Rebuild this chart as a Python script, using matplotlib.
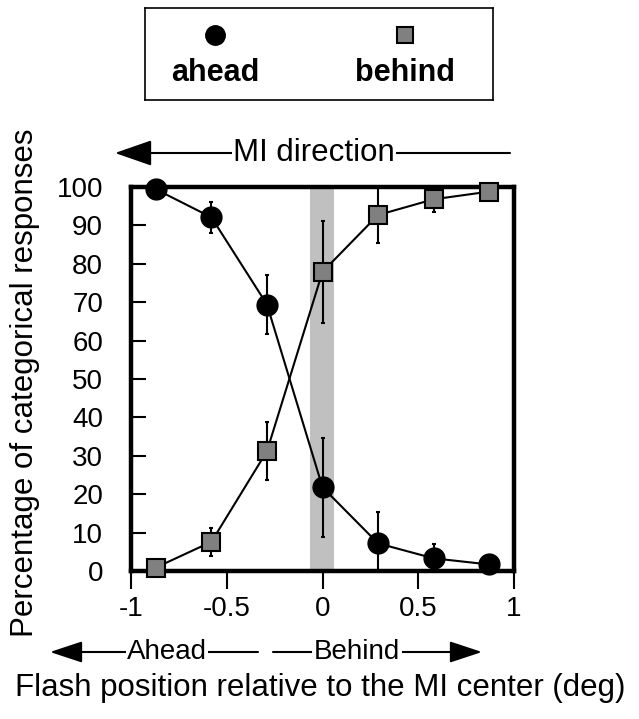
import matplotlib
matplotlib.use("Agg")
import matplotlib.pyplot as plt

# flash positions (deg) and % categorical responses
flash_pos = [-0.87, -0.58, -0.29, 0.0, 0.29, 0.58, 0.87]
ahead_pct = [99.4, 92.1, 69.4, 21.8, 7.2, 3.3, 1.7]
ahead_err = [1.0, 4.0, 7.7, 12.9, 8.1, 3.7, 1.0]
behind_pct = [0.9, 7.6, 31.2, 77.9, 92.7, 96.8, 98.8]
behind_err = [1.0, 3.7, 7.6, 13.2, 7.4, 3.2, 1.0]
center_band = (-0.065, 0.06)

x_ticks = [-1, -0.5, 0, 0.5, 1]
x_ticklabels = ["-1", "-0.5", "0", "0.5", "1"]
y_ticks = list(range(0, 101, 10))

plt.rcParams["font.family"] = ["Liberation Sans", "DejaVu Sans"]

W, H = 639, 719
fig = plt.figure(figsize=(W / 100, H / 100), dpi=100)


def fx(px):
    return px / W


def fy(py):
    return 1 - py / H


ax = fig.add_axes([fx(131), fy(571), fx(514) - fx(131), fy(187) - fy(571)])
ax.axvspan(*center_band, color="#c0c0c0", lw=0, zorder=0)

ax.errorbar(flash_pos, ahead_pct, yerr=ahead_err, fmt="none", ecolor="black",
            elinewidth=1.5, capsize=1.5, capthick=1.5, zorder=1)
ax.errorbar(flash_pos, behind_pct, yerr=behind_err, fmt="none", ecolor="black",
            elinewidth=1.5, capsize=1.5, capthick=1.5, zorder=1)
ax.plot(flash_pos, behind_pct, "-", color="black", lw=1.5, marker="s", ms=13,
        mfc="#808080", mec="black", mew=1.5, clip_on=False, zorder=4)
ax.plot(flash_pos, ahead_pct, "-", color="black", lw=1.5, marker="o", ms=15,
        mfc="black", mec="black", clip_on=False, zorder=4)

ax.set_xlim(-1, 1)
ax.set_ylim(0, 100)
ax.set_xticks(x_ticks)
ax.set_xticklabels(x_ticklabels)
ax.set_yticks(y_ticks)
for s in ax.spines.values():
    s.set_linewidth(3.2)
ax.tick_params(axis="x", direction="out", length=13, width=1.5, pad=5, labelsize=20)
ax.tick_params(axis="y", direction="in", length=11, width=1.5, pad=20, labelsize=20)

fig.text(fx(25), fy(383), "Percentage of categorical responses", rotation=90,
         ha="center", va="center", fontsize=22.5)
fig.text(fx(320), fy(688), "Flash position relative to the MI center (deg)",
         ha="center", va="center", fontsize=22.5)


def arrow(x0, x1, y, hl, hw):
    fig.add_artist(matplotlib.patches.FancyArrowPatch(
        (fx(x0), fy(y)), (fx(x1), fy(y)), transform=fig.transFigure,
        arrowstyle=f"-|>,head_length={hl},head_width={hw}", mutation_scale=20,
        color="black", lw=1.5, shrinkA=0, shrinkB=0))


def label(x, y, s, size):
    fig.text(fx(x), fy(y), s, ha="center", va="center", fontsize=size,
             bbox=dict(facecolor="white", edgecolor="none", pad=1.0))


arrow(510, 115, 153, 1.15, 0.4)
label(314, 153, "MI direction", 22.5)
arrow(258, 50, 652, 1.0, 0.33)
label(167, 652, "Ahead", 20)
arrow(273, 482, 652, 1.0, 0.33)
label(357, 652, "Behind", 20)

# legend box
lax = fig.add_axes([fx(145), fy(100), fx(493) - fx(145), fy(8) - fy(100)])
lax.set_xlim(0, 1)
lax.set_ylim(0, 1)
lax.set_xticks([])
lax.set_yticks([])
for s in lax.spines.values():
    s.set_linewidth(1.2)
lax.plot([(215 - 145) / 348], [1 - 27 / 92], "o", ms=14, color="black")
lax.plot([(405 - 145) / 348], [1 - 27 / 92], "s", ms=12, mfc="#808080", mec="black", mew=1.5)
lax.text((215 - 145) / 348, 1 - 65 / 92, "ahead", ha="center", va="center",
         fontsize=22, fontweight="bold")
lax.text((405 - 145) / 348, 1 - 65 / 92, "behind", ha="center", va="center",
         fontsize=22, fontweight="bold")

fig.savefig("out.png", dpi=100)
